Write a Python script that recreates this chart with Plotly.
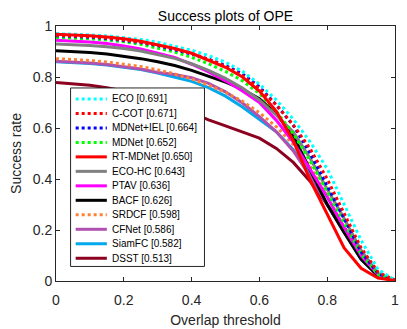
import plotly.graph_objects as go

# overlap thresholds 0:0.05:1
THRESHOLDS = [i * 0.05 for i in range(21)]

TRACKERS = ["ECO", "C-COT", "MDNet+IEL", "MDNet", "RT-MDNet", "ECO-HC",
            "PTAV", "BACF", "SRDCF", "CFNet", "SiamFC", "DSST"]
AUC = [0.691, 0.671, 0.664, 0.652, 0.650, 0.643, 0.636, 0.626, 0.598, 0.586, 0.582, 0.513]

ECO = [0.970, 0.968, 0.965, 0.961, 0.955, 0.947, 0.936, 0.922, 0.905, 0.884, 0.858,
       0.822, 0.772, 0.710, 0.635, 0.545, 0.440, 0.300, 0.160, 0.045, 0.003]
CCOT = [0.964, 0.962, 0.958, 0.953, 0.946, 0.937, 0.925, 0.910, 0.892, 0.869, 0.842,
        0.805, 0.755, 0.690, 0.612, 0.518, 0.400, 0.265, 0.130, 0.035, 0.003]
MDNET_IEL = [0.962, 0.960, 0.956, 0.951, 0.944, 0.935, 0.923, 0.908, 0.890, 0.870, 0.845,
             0.812, 0.762, 0.690, 0.610, 0.500, 0.375, 0.245, 0.115, 0.030, 0.002]
MDNET = [0.955, 0.953, 0.950, 0.945, 0.938, 0.928, 0.914, 0.898, 0.877, 0.852, 0.822,
         0.785, 0.735, 0.665, 0.578, 0.470, 0.350, 0.225, 0.105, 0.025, 0.002]
RT_MDNET = [0.968, 0.966, 0.962, 0.957, 0.950, 0.940, 0.927, 0.912, 0.893, 0.866, 0.838,
            0.800, 0.745, 0.665, 0.550, 0.395, 0.260, 0.130, 0.050, 0.012, 0.002]
ECO_HC = [0.929, 0.927, 0.924, 0.919, 0.912, 0.902, 0.889, 0.873, 0.852, 0.826, 0.795,
          0.757, 0.710, 0.650, 0.585, 0.480, 0.360, 0.245, 0.120, 0.030, 0.002]
PTAV = [0.944, 0.941, 0.937, 0.931, 0.922, 0.910, 0.895, 0.877, 0.850, 0.820, 0.785,
        0.745, 0.700, 0.630, 0.545, 0.440, 0.330, 0.210, 0.100, 0.025, 0.005]
BACF = [0.903, 0.900, 0.896, 0.890, 0.882, 0.872, 0.860, 0.845, 0.826, 0.803, 0.780,
        0.752, 0.715, 0.655, 0.570, 0.435, 0.300, 0.190, 0.085, 0.020, 0.002]
SRDCF = [0.872, 0.869, 0.865, 0.859, 0.851, 0.841, 0.828, 0.812, 0.792, 0.768, 0.740,
         0.705, 0.660, 0.605, 0.535, 0.450, 0.330, 0.210, 0.100, 0.025, 0.003]
CFNET = [0.862, 0.859, 0.855, 0.849, 0.841, 0.831, 0.818, 0.810, 0.797, 0.775, 0.742,
         0.698, 0.645, 0.585, 0.510, 0.410, 0.300, 0.190, 0.090, 0.020, 0.003]
SIAMFC = [0.860, 0.857, 0.853, 0.847, 0.839, 0.829, 0.816, 0.800, 0.783, 0.758, 0.725,
          0.682, 0.635, 0.585, 0.515, 0.420, 0.300, 0.190, 0.085, 0.020, 0.003]
DSST = [0.778, 0.774, 0.768, 0.758, 0.745, 0.728, 0.708, 0.686, 0.660, 0.632, 0.608,
        0.585, 0.560, 0.520, 0.465, 0.390, 0.300, 0.210, 0.115, 0.015, 0.002]

SERIES = [ECO, CCOT, MDNET_IEL, MDNET, RT_MDNET, ECO_HC, PTAV, BACF, SRDCF, CFNET, SIAMFC, DSST]

COLORS = ["#00FFFF", "#FF0000", "#0000FF", "#00FF00", "#FF0000", "#808080",
          "#FF00FF", "#000000", "#FF8033", "#B050B0", "#00A8EC", "#8C0020"]
DASHES = ["dot", "dot", "dot", "dot", "solid", "solid",
          "solid", "solid", "dot", "solid", "solid", "solid"]

AXIS_COLOR = "#262626"
FONT = "Liberation Sans, Arial, sans-serif"

# the page body adds an 8px margin, so the figure is 8px smaller than the window
W, H = 399, 321

fig = go.Figure()

# draw bottom of the legend first, RT-MDNet on top
order = list(range(len(TRACKERS)))[::-1]
order.remove(4)
order.append(4)
for i in order:
    fig.add_trace(go.Scatter(
        x=THRESHOLDS, y=SERIES[i], mode="lines", name=TRACKERS[i],
        line=dict(color=COLORS[i], width=3, dash=DASHES[i]),
        showlegend=False,
    ))

# ── hand-made legend box (plotly legend rows can't be this tight) ──
LEG_X0, LEG_X1 = 0.043, 0.438
LEG_Y0, LEG_Y1 = 0.057, 0.757
ROW_TOP, ROW_STEP = 0.714, 0.0568
fig.add_shape(type="rect", xref="paper", yref="paper",
              x0=LEG_X0, x1=LEG_X1, y0=LEG_Y0, y1=LEG_Y1,
              fillcolor="white", line=dict(color=AXIS_COLOR, width=1))
for k, name in enumerate(TRACKERS):
    yy = ROW_TOP - k * ROW_STEP
    fig.add_shape(type="line", xref="paper", yref="paper",
                  x0=0.058, x1=0.150, y0=yy, y1=yy,
                  line=dict(color=COLORS[k], width=3, dash=DASHES[k]))
    fig.add_annotation(xref="paper", yref="paper", x=0.160, y=yy,
                       text=f"{name} [{AUC[k]:.3f}]", showarrow=False,
                       xanchor="left", yanchor="middle", align="left",
                       font=dict(size=10, color="#000000", family=FONT))

axis_common = dict(
    range=[0, 1], dtick=0.2, showgrid=False, zeroline=False,
    showline=True, linecolor=AXIS_COLOR, linewidth=1, mirror="ticks",
    ticks="inside", ticklen=4, tickcolor=AXIS_COLOR,
    tickfont=dict(size=14, color=AXIS_COLOR, family=FONT),
    automargin=False, fixedrange=True,
)

fig.update_layout(
    width=W, height=H,
    margin=dict(l=48, r=12, t=18, b=48),
    paper_bgcolor="white", plot_bgcolor="white",
    font=dict(family=FONT, color=AXIS_COLOR),
    title=dict(text="Success plots of OPE", x=(48 + 339 / 2) / W, xanchor="center",
               y=1 - 3 / H, yanchor="top",
               font=dict(size=14, color="#000000", family=FONT)),
    xaxis=dict(axis_common, ticklabelstandoff=6,
               title=dict(text="Overlap threshold", standoff=8,
                          font=dict(size=14, color=AXIS_COLOR))),
    yaxis=dict(axis_common,
               title=dict(text="Success rate", standoff=9,
                          font=dict(size=14, color=AXIS_COLOR))),
    showlegend=False,
)

fig.write_html("out.html")
